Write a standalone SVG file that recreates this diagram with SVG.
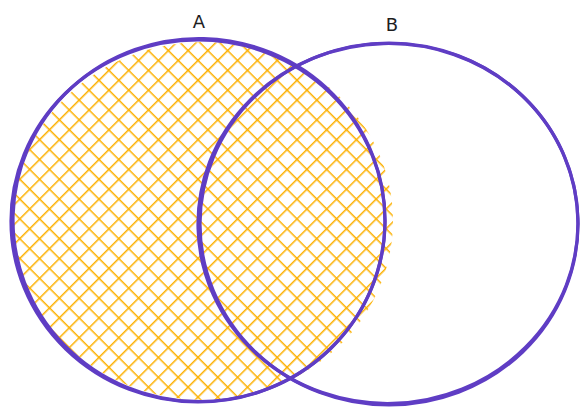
<svg xmlns="http://www.w3.org/2000/svg" width="587" height="414" viewBox="0 0 587 414">
  <style>
    .outline { fill: none; stroke: #5f3dc4; stroke-width: 3.2; stroke-linecap: round; }
    .label { font-family: "DejaVu Sans", "Liberation Sans", sans-serif; font-size: 18px; fill: #1e1e1e; text-anchor: middle; }
  </style>
  <defs>
    <pattern id="hatch" patternUnits="userSpaceOnUse" width="14" height="14" patternTransform="rotate(45)">
      <line x1="0" y1="0" x2="0" y2="14" stroke="#fcb000" stroke-width="3"/>
      <line x1="0" y1="0" x2="14" y2="0" stroke="#fcb000" stroke-width="3"/>
    </pattern>
    <clipPath id="clipA">
      <ellipse cx="203" cy="221" rx="190" ry="179"/>
    </clipPath>
  </defs>
  <rect width="587" height="414" fill="#ffffff"/>
  <g id="node-A">
    <rect x="0" y="30" width="420" height="384" fill="url(#hatch)" clip-path="url(#clipA)"/>
    <ellipse class="outline" cx="198" cy="221" rx="187" ry="181"/>
    <ellipse class="outline" cx="199" cy="220" rx="186" ry="181.5" transform="rotate(1.5 199 220)"/>
    <text class="label" x="199" y="28">A</text>
  </g>
  <g id="node-B">
    <ellipse class="outline" cx="389" cy="224" rx="189" ry="181"/>
    <ellipse class="outline" cx="388" cy="223.5" rx="190" ry="180" transform="rotate(-1.5 388 223.5)"/>
    <text class="label" x="392" y="31">B</text>
  </g>
  <g id="connectors"></g>
</svg>
